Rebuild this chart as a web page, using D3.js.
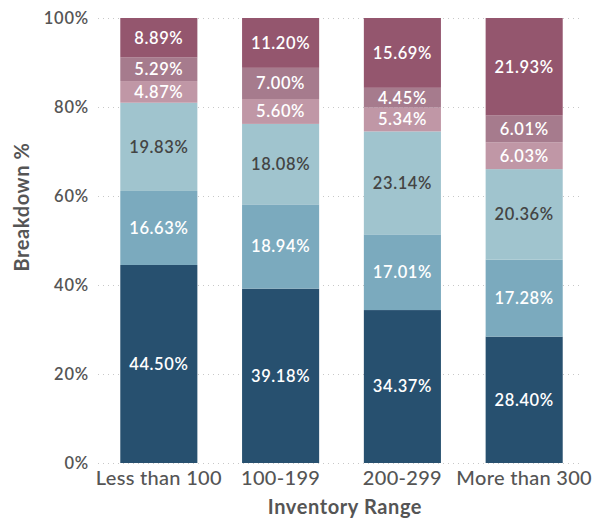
<!DOCTYPE html>
<html>
<head>
<meta charset="utf-8">
<script src="https://cdn.jsdelivr.net/npm/d3@7"></script>
<style>
  body { margin: 0; background: #fff; }
  text { font-family: Lato, "Open Sans", sans-serif; }
</style>
</head>
<body>
<svg width="603" height="520"></svg>
<script>
var svg = d3.select('svg');

// data
var categories = ['Less than 100', '100-199', '200-299', 'More than 300'];
var seriesKeys = ['s1', 's2', 's3', 's4', 's5', 's6'];
var s1 = [44.50, 39.18, 34.37, 28.40];
var s2 = [16.63, 18.94, 17.01, 17.28];
var s3 = [19.83, 18.08, 23.14, 20.36];
var s4 = [4.87, 5.60, 5.34, 6.03];
var s5 = [5.29, 7.00, 4.45, 6.01];
var s6 = [8.89, 11.20, 15.69, 21.93];
var yTicks = [0, 20, 40, 60, 80, 100];

var colors = ['#27506f', '#7baabe', '#a0c4ce', '#c097a6', '#a67b8d', '#94566e'];
var labelColors = ['#fff', '#fff', '#444', '#fff', '#fff', '#fff'];

var rows = categories.map(function(c, i) {
    return { cat: c, s1: s1[i], s2: s2[i], s3: s3[i], s4: s4[i], s5: s5[i], s6: s6[i] };
});

var stacked = d3.stack().keys(seriesKeys)(rows);

var xScale = d3.scaleBand()
    .domain(categories)
    .range([98, 585])
    .paddingInner(0.367)
    .paddingOuter(0.183);

var yScale = d3.scaleLinear()
    .domain([0, 100])
    .range([463, 18]);

// gridlines
svg.append('g')
    .selectAll('line')
    .data(yTicks)
    .enter().append('line')
    .attr('x1', 98)
    .attr('x2', 580)
    .attr('y1', function(d) { return yScale(d) + 0.5; })
    .attr('y2', function(d) { return yScale(d) + 0.5; })
    .attr('stroke', '#c8c8c8')
    .attr('stroke-width', 1)
    .attr('stroke-dasharray', '1,4');

// bars
var layers = svg.append('g')
    .selectAll('g')
    .data(stacked)
    .enter().append('g')
    .attr('fill', function(d, i) { return colors[i]; });

layers.selectAll('rect')
    .data(function(d) { return d; })
    .enter().append('rect')
    .attr('x', function(d) { return xScale(d.data.cat); })
    .attr('width', xScale.bandwidth())
    .attr('y', function(d) { return yScale(Math.min(d[1], 100)); })
    .attr('height', function(d) { return yScale(d[0]) - yScale(Math.min(d[1], 100)); });

// segment labels
stacked.forEach(function(layer, li) {
    svg.append('g')
        .selectAll('text')
        .data(layer)
        .enter().append('text')
        .attr('x', function(d) { return xScale(d.data.cat) + xScale.bandwidth() / 2; })
        .attr('y', function(d) { return yScale((d[0] + Math.min(d[1], 100)) / 2); })
        .attr('dy', '0.36em')
        .attr('text-anchor', 'middle')
        .style('font-size', '16.5px')
        .style('font-weight', 600)
        .style('letter-spacing', '0.6px')
        .style('fill', labelColors[li])
        .text(function(d) { return (d[1] - d[0]).toFixed(2) + '%'; });
});

// y axis
var yAxis = d3.axisLeft(yScale)
    .tickValues(yTicks)
    .tickSize(0)
    .tickPadding(9)
    .tickFormat(function(d) { return d + '%'; });

var yAxisG = svg.append('g')
    .attr('transform', 'translate(98,0)')
    .call(yAxis);
yAxisG.select('.domain').remove();
yAxisG.selectAll('text')
    .style('font-size', '16.5px')
    .style('font-family', 'Lato, sans-serif')
    .style('font-weight', 600)
    .style('letter-spacing', '0.8px')
    .style('fill', '#555');

// x axis
var xAxis = d3.axisBottom(xScale).tickSize(0).tickPadding(8);
var xAxisG = svg.append('g')
    .attr('transform', 'translate(0,463)')
    .call(xAxis);
xAxisG.select('.domain').remove();
xAxisG.selectAll('text')
    .style('font-size', '20px')
    .style('font-family', 'Lato, sans-serif')
    .style('font-weight', 500)
    .style('letter-spacing', '0.3px')
    .style('fill', '#555');

// axis titles
svg.append('text')
    .attr('x', 345)
    .attr('y', 514)
    .attr('text-anchor', 'middle')
    .style('font-size', '20px')
    .style('font-weight', 700)
    .style('letter-spacing', '0.6px')
    .style('fill', '#555')
    .text('Inventory Range');

svg.append('text')
    .attr('transform', 'translate(29,207) rotate(-90)')
    .attr('text-anchor', 'middle')
    .style('font-size', '20px')
    .style('font-weight', 700)
    .style('letter-spacing', '0.6px')
    .style('fill', '#555')
    .text('Breakdown %');
</script>
</body>
</html>
